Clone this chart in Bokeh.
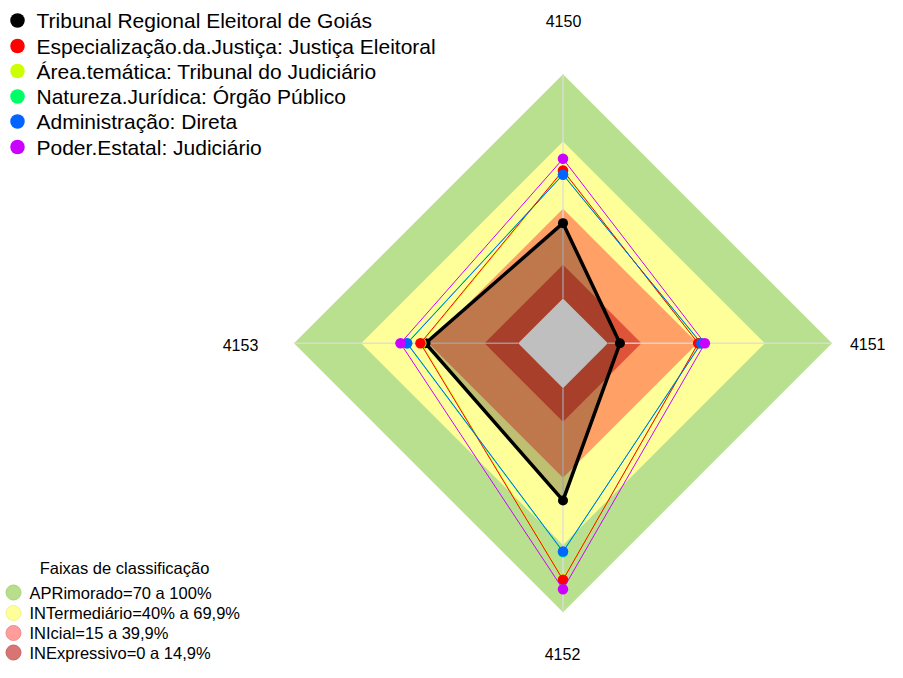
import numpy as np
from bokeh.plotting import figure
from bokeh.models import Range1d
from bokeh.embed import file_html
from bokeh.resources import INLINE
from bokeh.core.properties import value

# ---------------- data ----------------
axis_labels = ["4150", "4151", "4152", "4153"]

series_names = [
    "Tribunal Regional Eleitoral de Goiás",
    "Especialização.da.Justiça: Justiça Eleitoral",
    "Área.temática: Tribunal do Judiciário",
    "Natureza.Jurídica: Órgão Público",
    "Administração: Direta",
    "Poder.Estatal: Judiciário",
]
series_colors = ["#000000", "#FF0000", "#CCFF00", "#00FF66", "#0066FF", "#CC00FF"]

tribunal = [0.336, 0.054, 0.501, 0.413]
especializacao = [0.571, 0.403, 0.855, 0.436]
area_tematica = [0.566, 0.405, 0.850, 0.432]
natureza = [0.554, 0.415, 0.732, 0.497]
administracao = [0.552, 0.417, 0.729, 0.495]
poder = [0.623, 0.433, 0.897, 0.525]

band_title = "Faixas de classificação"
band_names = [
    "APRimorado=70 a 100%",
    "INTermediário=40% a 69,9%",
    "INIcial=15 a 39,9%",
    "INExpressivo=0 a 14,9%",
]
band_upper = [1.0, 0.70, 0.40, 0.15]
band_colors = ["#B9E08E", "#FFFF99", "#FFA066", "#DF5438"]
band_legend_colors = ["#B6DE8B", "#FFFF99", "#FF9C9C", "#D87474"]
band_legend_lines = ["#A9D47C", "#F2F28C", "#F08C8C", "#C86464"]

# ---------------- layout ----------------
CX, CY, PX = 562.5, 342.8, 269.0   # centre and outer radius in page pixels
R0 = 1.0 / 6.0                      # inner hole (fraction of outer radius)
angles = [np.pi / 2 - k * np.pi / 2 for k in range(len(axis_labels))]
W, H = 887, 662


def px(X):
    return (X - CX) / PX


def py(Y):
    return (CY - Y) / PX


def radar(vals):
    r = [R0 + v * (1 - R0) for v in vals]
    xs = [ri * np.cos(a) for ri, a in zip(r, angles)]
    ys = [ri * np.sin(a) for ri, a in zip(r, angles)]
    return xs, ys


p = figure(width=W, height=H,
           x_range=Range1d(px(0), px(W)), y_range=Range1d(py(H), py(0)),
           output_backend="svg", toolbar_location=None, min_border=0)
p.axis.visible = False
p.grid.visible = False
p.outline_line_color = None
p.background_fill_color = "white"
p.border_fill_color = "white"

# bands
for up, col in zip(band_upper, band_colors):
    xs, ys = radar([up] * 4)
    p.patch(xs, ys, fill_color=col, line_color=None)
xs, ys = radar([0.0] * 4)
p.patch(xs, ys, fill_color="white", line_color=None)

# axis spokes
for a in angles:
    p.line([R0 * np.cos(a), np.cos(a)], [R0 * np.sin(a), np.sin(a)],
           line_color="#DCDCDC", line_width=1.5, line_alpha=0.85)

# main series
xs, ys = radar(tribunal)
p.patch(xs, ys, fill_color="black", fill_alpha=0.25, line_color=None)
p.line(xs + xs[:1], ys + ys[:1], line_color="black", line_width=3.5)
p.scatter(xs, ys, size=10, fill_color="black", line_color=None)

# other series
others = [(area_tematica, 2), (natureza, 3), (especializacao, 1), (administracao, 4), (poder, 5)]
for vals, ci in others:
    xs, ys = radar(vals)
    p.line(xs + xs[:1], ys + ys[:1], line_color=series_colors[ci], line_width=1)
    p.scatter(xs, ys, size=10.5, fill_color=series_colors[ci], line_color=None)

# axis labels
lab_pos = [(563, 20, "center"), (885, 343, "right"), (562, 653, "center"), (240, 344, "center")]
for lab, (X, Y, al) in zip(axis_labels, lab_pos):
    p.text([px(X)], [py(Y)], text=[lab], text_align=al, text_baseline="middle",
           text_font=value("Liberation Sans"), text_font_size=value("16px"), text_color="black")

# top legend
rows = [20, 45.5, 70.5, 96, 121, 146.5]
p.scatter([px(17) for _ in rows], [py(y) for y in rows], size=14.5,
          fill_color=series_colors, line_color=None)
p.text([px(36) for _ in rows], [py(y) for y in rows], text=series_names,
       text_align="left", text_baseline="middle",
       text_font=value("Liberation Sans"), text_font_size=value("21px"), text_color="black")

# bottom legend
p.text([px(124)], [py(567)], text=[band_title], text_align="center", text_baseline="middle",
       text_font=value("Liberation Sans"), text_font_size=value("16.5px"), text_color="black")
brows = [592, 612.5, 632.5, 652]
p.scatter([px(13) for _ in brows], [py(y) for y in brows], size=15,
          fill_color=band_legend_colors, line_color=band_legend_lines, line_width=1)
p.text([px(29) for _ in brows], [py(y) for y in brows], text=band_names,
       text_align="left", text_baseline="middle",
       text_font=value("Liberation Sans"), text_font_size=value("16.5px"), text_color="black")

open("out.html", "w").write(file_html(p, INLINE))
